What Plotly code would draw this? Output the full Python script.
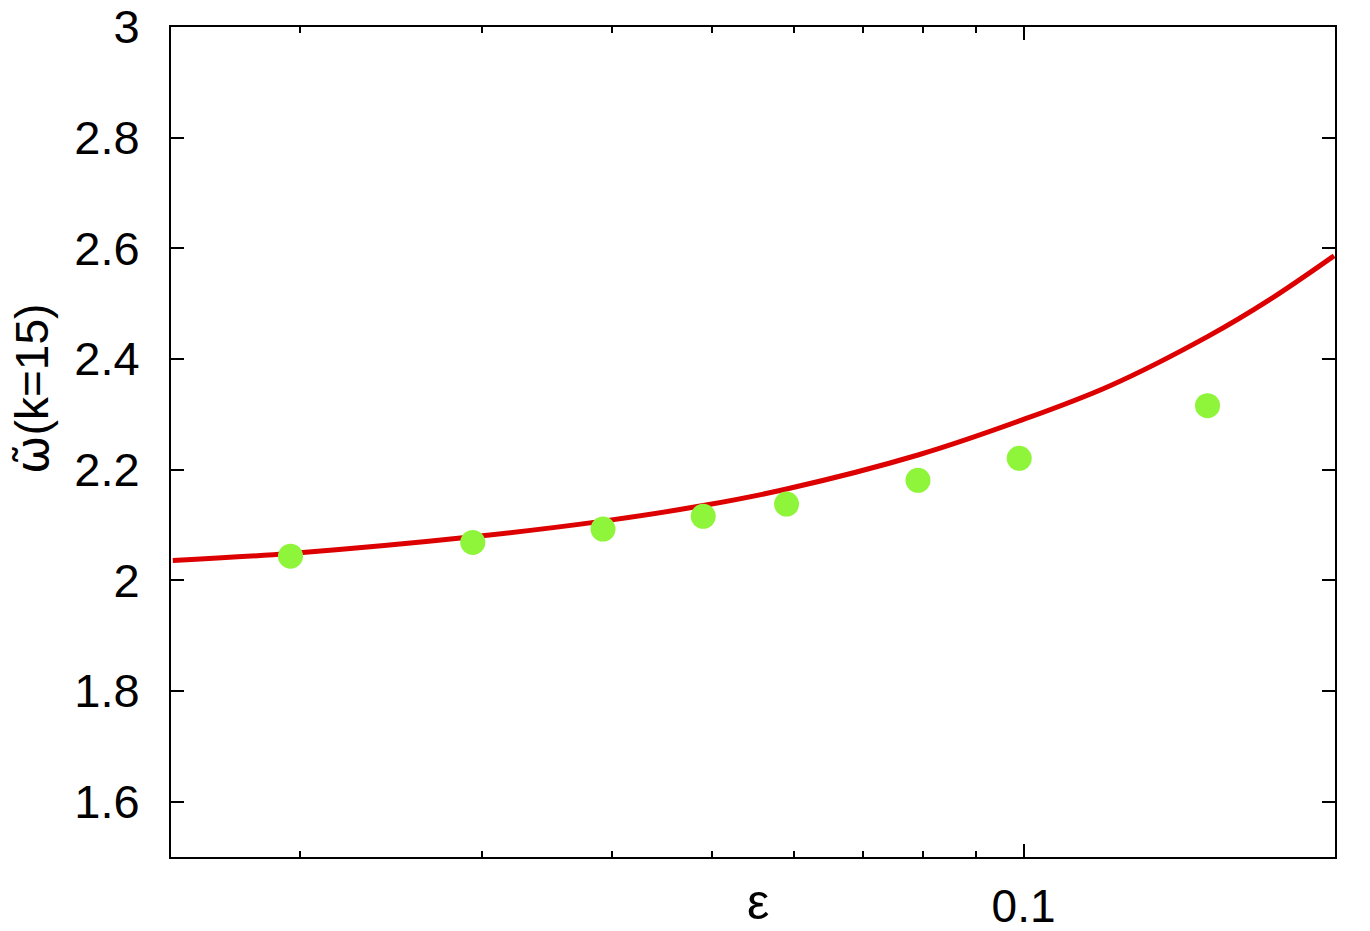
import numpy as np
import plotly.graph_objects as go

# --- data ---
eps_points = [0.01957, 0.02936, 0.03923, 0.04903, 0.05902, 0.07907, 0.09905, 0.1506]
omega_points = [2.0437, 2.0685, 2.0926, 2.1156, 2.1378, 2.1807, 2.2205, 2.3157]

eps_curve = [0.01506, 0.01957, 0.02936, 0.03923, 0.04902, 0.05902, 0.07907,
             0.09905, 0.1211, 0.1506, 0.1728, 0.1996]
omega_curve = [2.036, 2.0486, 2.0787, 2.107, 2.1351, 2.165, 2.2265,
               2.288, 2.3513, 2.4405, 2.5069, 2.5866]

y_tickvals = [1.6, 1.8, 2.0, 2.2, 2.4, 2.6, 2.8, 3.0]
y_ticktext = ["1.6", "1.8", "2", "2.2", "2.4", "2.6", "2.8", "3"]
x_tickvals = [0.1]
x_ticktext = ["0.1"]
x_minor_vals = [0.02, 0.03, 0.04, 0.05, 0.06, 0.07, 0.08, 0.09, 0.2]

FONT = "Liberation Sans, Arial, Helvetica, sans-serif"

fig = go.Figure()
fig.add_trace(go.Scatter(
    x=eps_curve, y=omega_curve, mode="lines",
    line=dict(color="#dd0000", width=5, shape="spline", smoothing=1.0),
    showlegend=False, hoverinfo="skip"))
fig.add_trace(go.Scatter(
    x=eps_points, y=omega_points, mode="markers",
    marker=dict(color="#8ff53b", size=25, line=dict(width=0)),
    showlegend=False))

fig.update_layout(
    width=1370, height=931,
    margin=dict(l=171, r=35, t=27, b=74, autoexpand=False),
    paper_bgcolor="white", plot_bgcolor="white",
    font=dict(family=FONT, size=46, color="black"),
    xaxis=dict(
        type="log", automargin=False,
        range=[np.log10(0.015), np.log10(0.2)],
        tickmode="array", tickvals=x_tickvals, ticktext=x_ticktext,
        ticks="inside", ticklen=13, tickwidth=1.5, tickcolor="black",
        minor=dict(tickmode="array", tickvals=x_minor_vals, ticks="inside",
                   ticklen=6, tickwidth=1.5, tickcolor="black", showgrid=False),
        showline=True, linecolor="black", linewidth=2, mirror="ticks",
        showgrid=False, zeroline=False,
        tickfont=dict(family=FONT, size=46, color="black"),
        ticklabelstandoff=8,
    ),
    yaxis=dict(
        range=[1.5, 3.0], automargin=False,
        tickmode="array", tickvals=y_tickvals, ticktext=y_ticktext,
        ticks="inside", ticklen=13, tickwidth=1.5, tickcolor="black",
        showline=True, linecolor="black", linewidth=2, mirror="ticks",
        showgrid=False, zeroline=False,
        tickfont=dict(family=FONT, size=47, color="black"),
        ticklabelstandoff=20,
    ),
    annotations=[
        dict(text="ε", xref="paper", yref="paper", x=0.5043, y=-0.0892,
             xanchor="center", yanchor="bottom", showarrow=False, borderpad=0,
             font=dict(family=FONT, size=50, color="black")),
        dict(text="<span style='font-family:DejaVu Sans'>ω̃</span>(k=15)",
             xref="paper", yref="paper", x=-0.1194, y=0.564,
             xanchor="center", yanchor="middle", showarrow=False, textangle=-90,
             font=dict(family=FONT, size=46, color="black")),
    ],
)

fig.write_html("out.html", config={"displayModeBar": False},
               post_script="document.body.style.margin='0';")
